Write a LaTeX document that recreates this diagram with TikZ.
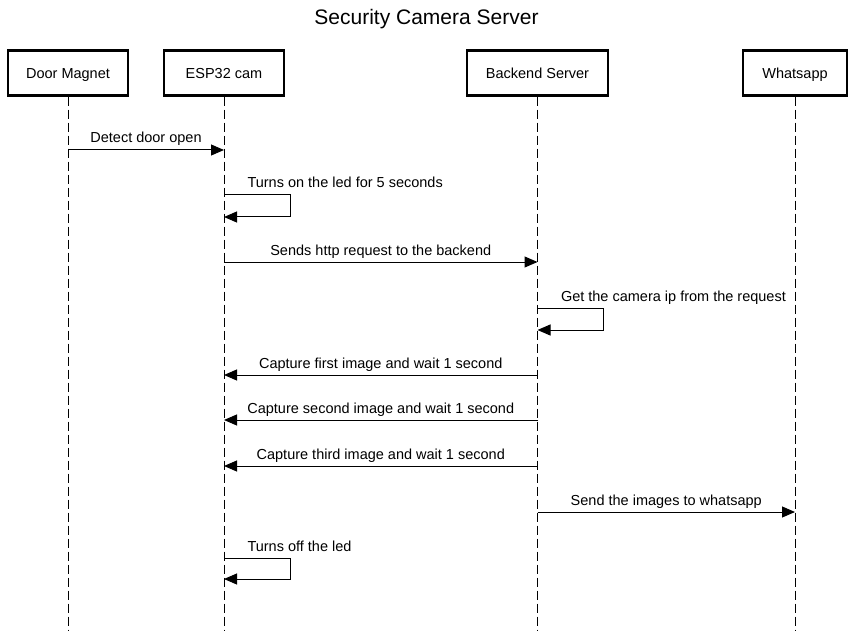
\documentclass[tikz,border=0pt]{standalone}
\usepackage{fontspec}
\setmainfont{Liberation Sans}
\usetikzlibrary{arrows.meta}
\begin{document}
\begin{tikzpicture}[x=1pt,y=-1pt,
  actor/.style={draw, line width=2.2pt, minimum height=45pt, inner sep=0pt, text height=12pt, text depth=0pt, fill=white, font=\fontsize{14.5}{17}\selectfont},
  life/.style={line width=1pt, dash pattern=on 9pt off 4pt},
  msg/.style={line width=1pt, -{Triangle[length=13pt,width=11pt]}},
  lbl/.style={inner sep=0pt, font=\fontsize{14.5}{17}\selectfont},
  mlbl/.style={lbl, midway, anchor=base, yshift=7pt},
  slbl/.style={lbl, pos=0, anchor=base west, xshift=23pt, yshift=7pt}]
\useasboundingbox (0,0) rectangle (853,636);
\node[font=\fontsize{21}{25}\selectfont] (title) at (426.5,19.5) {Security Camera Server};
\node[actor, minimum width=120pt] (dm) at (68,73) {Door Magnet};
\node[actor, minimum width=120pt] (esp) at (224,73) {ESP32 cam};
\node[actor, minimum width=141pt] (be) at (537.5,73) {Backend Server};
\node[actor, minimum width=104pt] (wa) at (795,73) {Whatsapp};
\coordinate (dmE) at (68,631);
\coordinate (espE) at (224,631);
\coordinate (beE) at (537.5,631);
\coordinate (waE) at (795,631);
\draw[life] (dm.south) -- (dmE);
\draw[life] (esp.south) -- (espE);
\draw[life] (be.south) -- (beE);
\draw[life] (wa.south) -- (waE);
% messages
\coordinate (m1a) at (68,150); \coordinate (m1b) at (224,150);
\draw[msg] (m1a) -- node[mlbl] {Detect door open} (m1b);
\coordinate (s1a) at (224,195); \coordinate (s1b) at (224,217);
\draw[msg] (s1a) -- node[slbl] {Turns on the led for 5 seconds} ++(66,0) |- (s1b);
\coordinate (m2a) at (224,262); \coordinate (m2b) at (537.5,262);
\draw[msg] (m2a) -- node[mlbl] {Sends http request to the backend} (m2b);
\coordinate (s2a) at (537.5,308); \coordinate (s2b) at (537.5,330);
\draw[msg] (s2a) -- node[slbl] {Get the camera ip from the request} ++(66,0) |- (s2b);
\coordinate (m3a) at (537.5,375); \coordinate (m3b) at (224,375);
\draw[msg] (m3a) -- node[mlbl] {Capture first image and wait 1 second} (m3b);
\coordinate (m4a) at (537.5,420); \coordinate (m4b) at (224,420);
\draw[msg] (m4a) -- node[mlbl] {Capture second image and wait 1 second} (m4b);
\coordinate (m5a) at (537.5,466); \coordinate (m5b) at (224,466);
\draw[msg] (m5a) -- node[mlbl] {Capture third image and wait 1 second} (m5b);
\coordinate (m6a) at (537.5,512); \coordinate (m6b) at (795,512);
\draw[msg] (m6a) -- node[mlbl] {Send the images to whatsapp} (m6b);
\coordinate (s3a) at (224,558); \coordinate (s3b) at (224,579);
\draw[msg] (s3a) -- node[slbl] {Turns off the led} ++(66,0) |- (s3b);
\end{tikzpicture}
\end{document}
